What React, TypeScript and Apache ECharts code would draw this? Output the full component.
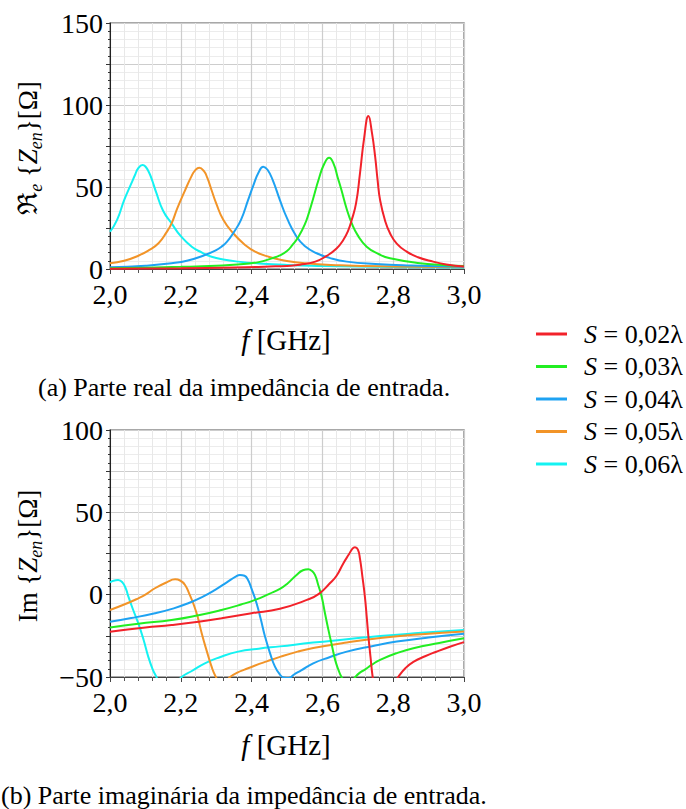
import React, { useEffect, useRef } from 'react';
import * as echarts from 'echarts';

const seriesNames = ['S = 0,02λ', 'S = 0,03λ', 'S = 0,04λ', 'S = 0,05λ', 'S = 0,06λ'];
const seriesColors = ['#f2222a', '#22ee22', '#1ea2f2', '#f29428', '#14f2f2'];

const xTicks = [2.0, 2.2, 2.4, 2.6, 2.8, 3.0];
const reTicks = [0, 50, 100, 150];
const imTicks = [-50, 0, 50, 100];

// Re{Zen} [ohm] vs f [GHz]
const re002: number[][] = [[2.00,0.1],[2.20,0.4],[2.35,0.9],[2.45,1.5],[2.50,1.9],[2.537,2.6],[2.58,4.5],[2.612,8.0],[2.64,12.5],[2.659,17.7],[2.672,23],[2.683,30],[2.695,40],[2.706,58],[2.718,80],[2.73,93.3],[2.74,83],[2.749,68.5],[2.756,54],[2.763,42],[2.777,29.5],[2.791,21.8],[2.81,15.5],[2.838,10.6],[2.87,7.2],[2.913,4.5],[2.95,2.8],[3.00,1.5]];
const re003: number[][] = [[2.00,0.4],[2.10,0.8],[2.20,1.3],[2.30,2.0],[2.36,2.7],[2.42,4.2],[2.457,6.5],[2.48,8.3],[2.50,11],[2.515,14.5],[2.532,19.5],[2.55,27],[2.563,35],[2.574,43],[2.59,55],[2.605,64],[2.619,67.9],[2.632,64],[2.643,56],[2.654,48],[2.668,37],[2.683,27.8],[2.70,20.5],[2.725,13.6],[2.76,9],[2.791,6.5],[2.876,3.5],[2.94,2.5],[3.00,1.8]];
const re004: number[][] = [[2.00,1.0],[2.10,2.0],[2.174,3.5],[2.22,5.2],[2.268,8.5],[2.30,11.5],[2.315,13.6],[2.33,16.5],[2.348,21.8],[2.37,30],[2.39,42],[2.405,51],[2.42,59],[2.433,62.4],[2.445,60.5],[2.46,54],[2.48,42],[2.50,31],[2.527,19.7],[2.55,14],[2.584,9.6],[2.62,6.8],[2.669,4.5],[2.75,3.0],[2.85,2.1],[3.00,1.4]];
const re005: number[][] = [[2.00,3.5],[2.04,5.0],[2.08,8.1],[2.11,11.5],[2.137,15.7],[2.16,22.5],[2.174,27.8],[2.19,37],[2.212,48],[2.23,56.5],[2.24,60],[2.252,61.8],[2.265,59.8],[2.275,55.5],[2.287,48],[2.30,40],[2.32,30],[2.348,21.8],[2.38,15],[2.41,10.6],[2.45,7.3],[2.485,5.5],[2.55,3.5],[2.65,2.3],[2.80,1.5],[3.00,1.0]];
const re006: number[][] = [[2.00,22.7],[2.02,30],[2.04,42],[2.06,52],[2.07,57],[2.08,61.5],[2.092,63.4],[2.10,62.5],[2.11,59],[2.12,53.5],[2.13,47],[2.15,35.5],[2.174,27.8],[2.20,20],[2.231,13.6],[2.26,10],[2.287,7.5],[2.32,5.8],[2.362,4.5],[2.42,3.4],[2.50,2.5],[2.60,1.9],[2.70,1.5],[2.80,1.2],[2.90,1.0],[3.00,0.8]];

// Im{Zen} [ohm] vs f [GHz]
const im002: number[][] = [[2.00,-22.5],[2.10,-20],[2.174,-18.4],[2.25,-16.4],[2.315,-14.3],[2.40,-11.3],[2.48,-8.5],[2.556,-3.2],[2.59,0.5],[2.621,6.9],[2.64,11.5],[2.659,19],[2.675,24.5],[2.685,28],[2.692,28.8],[2.70,27.5],[2.706,22],[2.713,11],[2.72,-1.2],[2.725,-13],[2.73,-25.5],[2.736,-38],[2.742,-50],[2.75,-60],[2.765,-66],[2.785,-60],[2.80,-54.5],[2.814,-50],[2.835,-44.5],[2.857,-40.8],[2.89,-37.4],[2.92,-34.8],[2.96,-31.6],[3.00,-28.8]];
const im003: number[][] = [[2.00,-20],[2.08,-17.6],[2.174,-15.4],[2.25,-12.5],[2.315,-9.3],[2.37,-6],[2.41,-3.2],[2.45,0.5],[2.48,3.5],[2.50,6.5],[2.527,12],[2.545,14.8],[2.56,15.4],[2.57,14.5],[2.579,12],[2.588,6],[2.598,-1.2],[2.607,-11],[2.617,-21.4],[2.627,-31],[2.636,-39.6],[2.645,-45.5],[2.654,-50],[2.665,-53.5],[2.675,-54],[2.685,-52.5],[2.692,-50.3],[2.705,-47.5],[2.72,-45.5],[2.74,-42.5],[2.763,-39.6],[2.81,-35.5],[2.857,-32.5],[2.93,-29.3],[3.00,-26.5]];
const im004: number[][] = [[2.00,-16.4],[2.06,-14.2],[2.127,-11.3],[2.18,-8.3],[2.221,-5.2],[2.26,-1.5],[2.297,2.9],[2.33,7.5],[2.355,11],[2.367,12],[2.38,11.5],[2.39,8.9],[2.40,3.5],[2.414,-5.2],[2.426,-15],[2.438,-25.5],[2.452,-35.5],[2.466,-43.7],[2.48,-48.5],[2.49,-50.3],[2.50,-50.6],[2.51,-50.2],[2.518,-48.8],[2.54,-46],[2.574,-41.7],[2.62,-38],[2.669,-34.6],[2.74,-31.3],[2.81,-28.5],[2.90,-26],[3.00,-23.8]];
const im005: number[][] = [[2.00,-9.3],[2.04,-6],[2.08,-2.2],[2.10,0],[2.127,3.9],[2.16,7.5],[2.184,9.3],[2.198,8.6],[2.212,5.9],[2.225,0],[2.235,-5.2],[2.247,-13],[2.259,-23.4],[2.273,-34],[2.287,-43.7],[2.298,-49.5],[2.31,-53],[2.322,-53.5],[2.332,-51.5],[2.339,-50],[2.36,-47.3],[2.38,-45.5],[2.41,-43],[2.443,-40.5],[2.48,-37.8],[2.53,-34.6],[2.574,-32.4],[2.669,-29],[2.763,-26.3],[2.88,-24],[3.00,-22.3]];
const im006: number[][] = [[2.00,7.5],[2.01,8.5],[2.023,8.9],[2.035,7.5],[2.045,3.5],[2.052,-1.2],[2.065,-9],[2.08,-17.4],[2.095,-27.5],[2.108,-37.6],[2.12,-45],[2.13,-49.5],[2.14,-54],[2.155,-60],[2.17,-60],[2.185,-55],[2.2025,-50],[2.23,-46.5],[2.268,-41.7],[2.31,-38],[2.362,-34.6],[2.42,-32.8],[2.48,-31.4],[2.574,-29.1],[2.669,-27.1],[2.763,-25.1],[2.88,-23.2],[3.00,-21.4]];

const reData = [re002, re003, re004, re005, re006];
const imData = [im002, im003, im004, im005, im006];

const FONT = 'Liberation Serif, Times New Roman, serif';
const num = { fontFamily: FONT, fontSize: 28, lineHeight: 22, color: '#000' };

function makeX(gridIndex: number) {
  return {
    type: 'value', gridIndex, min: 2, max: 3, interval: 0.2,
    axisLine: { show: true, onZero: false, lineStyle: { color: '#444', width: 1 } },
    axisTick: { show: true, length: 5, lineStyle: { color: '#444' } },
    minorTick: { show: true, splitNumber: 5, length: 4, lineStyle: { color: '#555' } },
    splitLine: { show: true, lineStyle: { color: '#cdcdcd', width: 1.2 } },
    minorSplitLine: { show: true, lineStyle: { color: '#e8e8e8', width: 1 } },
    axisLabel: {
      formatter: (v: number) => (xTicks.some(t => Math.abs(t - v) < 1e-6) ? '{n|' + v.toFixed(1).replace('.', ',') + '}' : ''),
      fontFamily: FONT, fontSize: 28, lineHeight: 22, color: '#000', margin: 14, rich: { n: num },
    },
  };
}

function makeY(gridIndex: number, min: number, max: number, labels: number[]) {
  return {
    type: 'value', gridIndex, min, max, interval: 25,
    axisLine: { show: true, lineStyle: { color: '#222', width: 1 } },
    axisTick: { show: true, length: 4, lineStyle: { color: '#333' } },
    minorTick: { show: true, splitNumber: 5, length: 2, lineStyle: { color: '#333' } },
    splitLine: { show: true, lineStyle: { color: '#cdcdcd', width: 1.2 } },
    minorSplitLine: { show: true, lineStyle: { color: '#ececec', width: 1 } },
    axisLabel: {
      formatter: (v: number) => (labels.includes(v) ? '{n|' + (v < 0 ? '\u2212' + Math.abs(v) : String(v)) + '}' : ''),
      fontFamily: FONT, fontSize: 28, lineHeight: 22, color: '#000', margin: 7, rich: { n: num },
    },
  };
}

const drawOrder = [4, 3, 2, 1, 0];

function buildSeries() {
  const out: any[] = [];
  [reData, imData].forEach((set, gi) => {
    drawOrder.forEach(i => {
      out.push({
        type: 'line', name: seriesNames[i], xAxisIndex: gi, yAxisIndex: gi,
        data: set[i], showSymbol: false, symbol: 'none', smooth: 0.5,
        clip: true, lineStyle: { color: seriesColors[i], width: 2 }, itemStyle: { color: seriesColors[i] },
      });
    });
  });
  return out;
}

const sub = { fontFamily: FONT, fontSize: 18, fontStyle: 'italic', lineHeight: 17, verticalAlign: 'bottom', fill: '#000' };
const main = { fontFamily: FONT, fontSize: 27, lineHeight: 33, fill: '#000' };
const ital = { ...main, fontStyle: 'italic' };
const fmain = { fontFamily: FONT, fontSize: 29, lineHeight: 34, fill: '#000' };
const fital = { ...fmain, fontStyle: 'italic' };

function yTitle(x: number, y: number, prefix: string) {
  return {
    type: 'text', x, y, rotation: Math.PI / 2,
    style: {
      text: prefix + '{m| \u007b}{i|Z}{s|en}{m|\u007d}{m|[Ω]}',
      rich: { m: main, i: ital, s: sub, r: main },
      fontFamily: FONT, fontSize: 27, lineHeight: 33, fill: '#000',
      align: 'center', verticalAlign: 'middle',
    },
  };
}

function fTitle(x: number, y: number) {
  return {
    type: 'text', x, y,
    style: {
      text: '{i|f}{m| [GHz]}', rich: { i: fital, m: fmain },
      fontFamily: FONT, fontSize: 29, lineHeight: 34, fill: '#000', align: 'center', verticalAlign: 'middle',
    },
  };
}

function caption(x: number, y: number, t: string) {
  return {
    type: 'text', x, y,
    style: {
      text: '{c|' + t + '}', rich: { c: { fontFamily: FONT, fontSize: 26, lineHeight: 24, fill: '#000' } },
      fontFamily: FONT, fontSize: 26, lineHeight: 24, fill: '#000', align: 'left', verticalAlign: 'middle',
    },
  };
}

export default function App() {
  const ref = useRef<HTMLDivElement>(null);
  useEffect(() => {
    const chart = echarts.init(ref.current as HTMLDivElement, null, { renderer: 'svg' });
    chart.setOption({
      animation: false,
      backgroundColor: '#fff',
      textStyle: { fontFamily: FONT },
      grid: [
        { left: 110, top: 23, width: 354, height: 246, show: true, borderColor: '#8c8c8c', borderWidth: 1.5, backgroundColor: 'transparent' },
        { left: 110, top: 430, width: 354, height: 247, show: true, borderColor: '#8c8c8c', borderWidth: 1.5, backgroundColor: 'transparent' },
      ],
      xAxis: [makeX(0), makeX(1)],
      yAxis: [makeY(0, 0, 150, reTicks), makeY(1, -50, 100, imTicks)],
      legend: {
        orient: 'vertical', left: 531, top: 316, itemWidth: 31, itemHeight: 3, itemGap: 6.5, icon: 'rect',
        data: seriesNames,
        formatter: (name: string) => '{i|S}{n|' + name.slice(1) + '}',
        textStyle: {
          fontFamily: FONT, fontSize: 26, lineHeight: 26, color: '#000', padding: [0, 0, 0, 12],
          rich: {
            i: { fontFamily: FONT, fontSize: 26, lineHeight: 26, fontStyle: 'italic', color: '#000' },
            n: { fontFamily: FONT, fontSize: 26, lineHeight: 26, color: '#000' },
          },
        },
      },
      graphic: [
        yTitle(28, 148, '{r|\u211c}{s|e}'),
        yTitle(28, 556, '{r|Im}'),
        fTitle(286, 340),
        fTitle(286, 745),
        caption(38, 387, '(a) Parte real da impedância de entrada.'),
        caption(1, 795, '(b) Parte imaginária da impedância de entrada.'),
      ],
      series: buildSeries(),
    });
    return () => chart.dispose();
  }, []);
  return <div ref={ref} style={{ position: 'fixed', left: 0, top: 0, width: 686, height: 809, background: '#fff' }} />;
}
